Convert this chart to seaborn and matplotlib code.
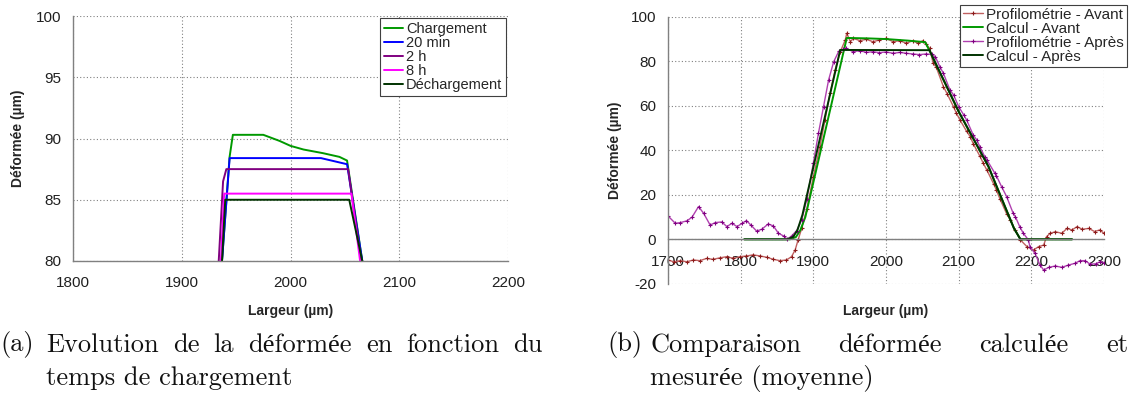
import matplotlib
matplotlib.use("Agg")
import matplotlib.pyplot as plt
import seaborn as sns

# ---------------------------------------------------------------
# (a) Evolution de la déformée en fonction du temps de chargement
# ---------------------------------------------------------------
chargement_x = [1937, 1944, 1947, 1975, 1990, 2000, 2012, 2030, 2045, 2052, 2066]
chargement_y = [80, 88.5, 90.3, 90.3, 89.8, 89.4, 89.1, 88.8, 88.5, 88.2, 80]

min20_x = [1937, 1944, 2028, 2052, 2066]
min20_y = [80, 88.4, 88.4, 87.9, 80]

h2_x = [1934, 1938, 1941, 2053, 2065]
h2_y = [80, 86.5, 87.5, 87.5, 80]

h8_x = [1936, 1939, 2056, 2064]
h8_y = [80, 85.5, 85.5, 80]

dechargement_x = [1937, 1940, 2054, 2066]
dechargement_y = [80, 85, 85, 80]

series_a = [
    ("Chargement", chargement_x, chargement_y, "#009900"),
    ("20 min", min20_x, min20_y, "#0000ff"),
    ("2 h", h2_x, h2_y, "#800080"),
    ("8 h", h8_x, h8_y, "#ff00ff"),
    ("Déchargement", dechargement_x, dechargement_y, "#003300"),
]

# ---------------------------------------------------------------
# (b) Comparaison déformée calculée et mesurée (moyenne)
# ---------------------------------------------------------------
avant_x = [1700, 1708, 1717, 1726, 1735, 1744, 1753, 1762, 1772, 1781, 1790, 1799,
           1808, 1817, 1827, 1836, 1845, 1854, 1863, 1870, 1875, 1879, 1884, 1891,
           1900, 1909, 1916, 1923, 1930, 1937, 1944, 1946, 1951, 1955, 1964, 1973,
           1982, 1991, 2000, 2010, 2019, 2028, 2037, 2044, 2051, 2055, 2060, 2065,
           2069, 2079, 2084, 2093, 2097, 2102, 2111, 2116, 2120, 2129, 2134, 2139,
           2148, 2152, 2157, 2166, 2171, 2178, 2185, 2194, 2203, 2210, 2217, 2221,
           2226, 2233, 2242, 2249, 2256, 2263, 2270, 2279, 2287, 2294, 2300]
avant_y = [-9.3, -10.1, -9.6, -10.1, -9.3, -9.6, -8.6, -9.0, -8.3, -7.8, -8.6, -7.8,
           -7.5, -7.0, -7.5, -8.1, -9.0, -9.6, -9.3, -7.8, -4.8, -0.3, 4.9, 13.5,
           28.1, 41.6, 53.6, 65.6, 76.1, 84.3, 89.6, 92.6, 88.8, 90.3, 89.3, 89.9,
           88.8, 89.6, 90.3, 88.8, 89.3, 88.1, 89.3, 88.1, 89.3, 87.8, 85.8, 79.1,
           77.5, 68.6, 65.5, 59.5, 56.6, 53.5, 48.5, 46.1, 43.0, 37.5, 34.1, 31.0,
           25.0, 22.1, 18.0, 11.5, 8.7, 4.0, -0.3, -3.3, -4.8, -3.3, -2.6, 1.2,
           2.7, 3.4, 2.7, 4.9, 4.2, 5.7, 4.5, 4.9, 3.5, 4.2, 2.7]

apres_x = [1700, 1710, 1717, 1726, 1733, 1742, 1749, 1758, 1765, 1774, 1781, 1788,
           1795, 1802, 1808, 1814, 1822, 1829, 1838, 1845, 1852, 1859, 1864, 1870,
           1877, 1884, 1891, 1900, 1907, 1914, 1921, 1928, 1935, 1941, 1945, 1955,
           1964, 1973, 1982, 1991, 2000, 2010, 2019, 2028, 2037, 2046, 2055, 2063,
           2068, 2074, 2079, 2088, 2093, 2100, 2107, 2111, 2120, 2125, 2129, 2136,
           2139, 2150, 2152, 2159, 2166, 2175, 2178, 2184, 2189, 2196, 2198, 2205,
           2212, 2217, 2224, 2233, 2242, 2251, 2260, 2267, 2274, 2281, 2289, 2295, 2300]
apres_y = [10.5, 7.2, 7.5, 8.3, 9.9, 14.7, 11.7, 6.4, 7.5, 7.8, 5.7, 7.2,
           5.7, 7.2, 8.4, 6.4, 3.7, 4.5, 6.9, 6.0, 2.7, 1.5, 0.0, 1.5,
           3.9, 8.7, 18.0, 34.2, 47.6, 59.6, 71.6, 79.8, 84.5, 85.4, 85.8, 84.3,
           84.8, 84.0, 84.3, 83.9, 84.2, 83.6, 84.0, 83.6, 83.3, 83.0, 83.3, 83.1,
           82.0, 77.6, 74.6, 67.1, 64.9, 59.6, 55.9, 53.6, 46.9, 44.6, 41.7, 37.1,
           35.6, 29.6, 28.5, 23.7, 19.2, 11.7, 10.2, 5.7, 2.7, -0.3, -3.3, -6.3,
           -11.6, -13.8, -12.6, -12.0, -12.6, -11.6, -10.8, -9.6, -9.6, -11.2, -11.0, -10.0, -10.5]

calcul_avant_x = [1805, 1868, 1876, 1882, 1889, 1946, 1975, 2000, 2030, 2054, 2064,
                  2100, 2141, 2176, 2185, 2256]
calcul_avant_y = [0, 0, 1, 4, 10, 90.5, 90.3, 90.0, 89.3, 88.6, 82,
                  57.4, 32.7, 5, 0, 0]

calcul_apres_x = [1805, 1864, 1872, 1878, 1885, 1937, 2060, 2064, 2100, 2141, 2176,
                  2185, 2256]
calcul_apres_y = [0, 0, 1, 4, 11, 85.1, 85.0, 82, 57.4, 32.7, 5, 0, 0]

caption_a1 = ["Evolution", "de", "la", "déformée", "en", "fonction", "du"]
caption_a2 = "temps de chargement"
caption_b1 = ["Comparaison", "déformée", "calculée", "et"]
caption_b2 = "mesurée (moyenne)"

# ---------------------------------------------------------------
sns.set_theme(style="white")
plt.rcParams["font.family"] = ["Liberation Sans", "DejaVu Sans"]
plt.rcParams["axes.unicode_minus"] = False

GRID = "#808080"
W = 1131


def style_axes(ax, xlim, ylim, xticks, yticks):
    ax.set_xlim(*xlim)
    ax.set_ylim(*ylim)
    ax.set_xticks(xticks)
    ax.set_yticks(yticks)
    ax.grid(True, color=GRID, linestyle=(0, (1, 2)), linewidth=0.8)
    for s in ["top", "right"]:
        ax.spines[s].set_visible(False)
    for s in ["left", "bottom"]:
        ax.spines[s].set_color(GRID)
        ax.spines[s].set_linewidth(1.0)
    ax.tick_params(axis="both", direction="out", length=3.5, width=1.0,
                   color=GRID, labelcolor="#202020", labelsize=11)
    ax.tick_params(axis="y", pad=5)
    ax.tick_params(axis="x", pad=7)
    ax.set_xlabel("Largeur (µm)", fontsize=10, fontweight="bold")
    ax.set_ylabel("Déformée (µm)", fontsize=10, fontweight="bold")


fig = plt.figure(figsize=(11.31, 4.0), dpi=100)

# ---- (a)
ax1 = fig.add_axes([73 / W, 139 / 400, 435 / W, 245 / 400])
for label, xs, ys, col in series_a:
    sns.lineplot(x=xs, y=ys, ax=ax1, color=col, linewidth=1.4, sort=False,
                 estimator=None, label=label)
style_axes(ax1, (1800, 2200), (80, 100), range(1800, 2201, 100), range(80, 101, 5))
ax1.xaxis.set_label_coords(0.5, -0.175)
ax1.yaxis.set_label_coords(-0.11, 0.5)
leg1 = ax1.legend(loc="upper right", bbox_to_anchor=(0.995, 0.99), fontsize=10.5,
                  frameon=True, fancybox=False, framealpha=1, edgecolor="#404040",
                  handlelength=1.3, handletextpad=0.2, labelspacing=0.0,
                  borderpad=0.25, borderaxespad=0)
leg1.get_frame().set_linewidth(0.8)

# ---- (b)
ax2 = fig.add_axes([668 / W, 116.2 / 400, 436 / W, 267 / 400])
sns.lineplot(x=avant_x, y=avant_y, ax=ax2, color="#c06060", linewidth=1.0,
             sort=False, estimator=None, marker="+", markersize=3.5,
             markeredgecolor="#8b1a1a", markeredgewidth=0.8,
             label="Profilométrie - Avant")
sns.lineplot(x=calcul_avant_x, y=calcul_avant_y, ax=ax2, color="#009900",
             linewidth=1.4, sort=False, estimator=None, label="Calcul - Avant")
sns.lineplot(x=apres_x, y=apres_y, ax=ax2, color="#b040b0", linewidth=1.0,
             sort=False, estimator=None, marker="+", markersize=3.5,
             markeredgecolor="#800080", markeredgewidth=0.8,
             label="Profilométrie - Après")
sns.lineplot(x=calcul_apres_x, y=calcul_apres_y, ax=ax2, color="#003300",
             linewidth=1.4, sort=False, estimator=None, label="Calcul - Après")
style_axes(ax2, (1700, 2300), (-20, 100), range(1700, 2301, 100), range(-20, 101, 20))
ax2.spines["bottom"].set_position(("data", 0))
ax2.tick_params(axis="x", pad=8)
ax2.xaxis.set_label_coords(0.5, -0.076)
ax2.yaxis.set_label_coords(-0.105, 0.5)
leg2 = ax2.legend(loc="upper right", bbox_to_anchor=(1127 / W, 1 - 4.5 / 400),
                  bbox_transform=fig.transFigure, fontsize=11,
                  frameon=True, fancybox=False, framealpha=1, edgecolor="#404040",
                  handlelength=1.3, handletextpad=0.2, labelspacing=0.0,
                  borderpad=0.2, borderaxespad=0)
leg2.get_frame().set_linewidth(0.8)

# ---- captions (justified like the LaTeX subcaptions)
cap = dict(fontsize=19, family=["cmr10", "Liberation Serif"], va="center",
           color="#111111")
renderer = fig.canvas.get_renderer()


def justified(words, x0, x1, ypix):
    texts = [fig.text(0, 1 - ypix / 400, w, ha="left", **cap) for w in words]
    widths = [t.get_window_extent(renderer).width for t in texts]
    gap = (x1 - x0 - sum(widths)) / (len(words) - 1)
    x = x0
    for t, w in zip(texts, widths):
        t.set_x(x / W)
        x += w + gap


fig.text(0 / W, 1 - 345 / 400, "(a)", ha="left", **cap)
justified(caption_a1, 46, 543, 345)
fig.text(46 / W, 1 - 378 / 400, caption_a2, ha="left", **cap)
fig.text(607 / W, 1 - 345 / 400, "(b)", ha="left", **cap)
justified(caption_b1, 650, 1128, 345)
fig.text(650 / W, 1 - 378 / 400, caption_b2, ha="left", **cap)

fig.savefig("out.png", dpi=100)
